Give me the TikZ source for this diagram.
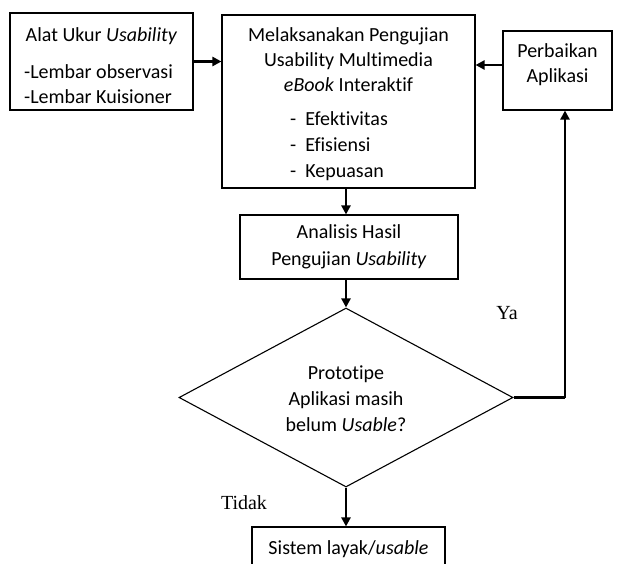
\documentclass[tikz,border=0pt]{standalone}
\usepackage{fontspec}
\setmainfont{Carlito}[Ligatures=NoCommon]
\newfontfamily\serifnote{Liberation Serif}
\usetikzlibrary{shapes.geometric,arrows.meta}
\begin{document}
\begin{tikzpicture}[x=1pt,y=-1pt,
  font=\fontsize{20}{25}\selectfont,
  boxnode/.style={draw,line width=1.1pt,inner sep=0pt,anchor=center},
  txt/.style={inner sep=0pt,align=center},
  arr/.style={line width=2.4pt,-{Triangle[length=9pt,width=9pt]}},
  conn/.style={line width=2.4pt}]
\useasboundingbox (0,0) rectangle (617,563);
\clip (0,0) rectangle (617,563);
% boxes
\node[boxnode,minimum width=183pt,minimum height=97pt] (b1) at (101.5,61.5) {};
\node[txt] (b1t) at (101.5,36) {Alat Ukur \textit{Usability}};
\node[txt,align=left,anchor=west] (b1l) at (24,84.5) {-Lembar observasi\\-Lembar Kuisioner};
\node[boxnode,minimum width=253pt,minimum height=173pt] (b2) at (348.5,101.5) {};
\node[txt] (b2t) at (348.5,60) {Melaksanakan Pengujian\\Usability Multimedia\\\textit{eBook} Interaktif};
\node[txt,align=left,anchor=west,font=\fontsize{20}{26}\selectfont] (b2l) at (290,146.5) {-\ \ Efektivitas\\-\ \ Efisiensi\\-\ \ Kepuasan};
\node[boxnode,minimum width=109pt,minimum height=79pt] (b3) at (557.5,70.5) {};
\node[txt] (b3t) at (557.5,65) {Perbaikan\\Aplikasi};
\node[boxnode,minimum width=218pt,minimum height=64pt] (b4) at (349,247) {};
\node[txt,font=\fontsize{20}{27}\selectfont] (b4t) at (349,247) {Analisis Hasil\\Pengujian \textit{Usability}};
\node[draw,diamond,line width=1.1pt,inner sep=0pt,aspect=1.866,minimum width=334pt,minimum height=179pt] (d) at (346,397.5) {};
\node[txt,font=\fontsize{20}{26}\selectfont] (dt) at (346,399) {Prototipe\\Aplikasi masih\\belum \textit{Usable}?};
\node[boxnode,minimum width=193pt,minimum height=60pt] (b5) at (348.5,557) {};
\node[txt] (b5t) at (348.5,549) {Sistem layak/\textit{usable}};
% labels
\node[txt,font=\serifnote\fontsize{20}{24}\selectfont] (ya) at (507,313) {Ya};
\node[txt,font=\serifnote\fontsize{20}{24}\selectfont] (tidak) at (244,503) {Tidak};
% connectors
\draw[arr] (b1.east) -- (b1.east -| b2.west);
\draw[arr] ([yshift=5.5pt]b3.west) -- ([yshift=5.5pt]b3.west -| b2.east);
\draw[arr] (b2.south -| d.north) -- (b4.north -| d.north);
\draw[arr] (b4.south -| d.north) -- (d.north);
\coordinate (corner) at (565,397.5);
\draw[conn] (d.east) -- (corner);
\draw[arr] (corner) -- (corner |- b3.south);
\draw[arr] (d.south) -- (d.south |- b5.north);
\end{tikzpicture}
\end{document}
